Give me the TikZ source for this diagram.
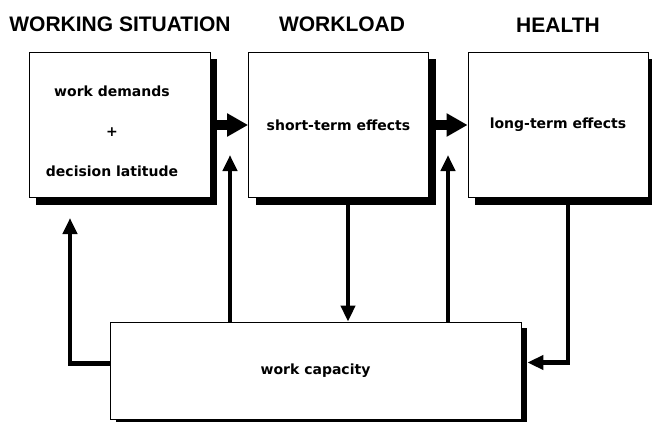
\documentclass[tikz,border=0pt]{standalone}
\usepackage{fontspec}
\setmainfont{Liberation Sans}
\newfontfamily\boxfont{DejaVu Sans}
\usetikzlibrary{arrows.meta,shadows}

\begin{document}
\begin{tikzpicture}[
  x=1pt, y=-1pt,
  every node/.style={font=\boxfont\bfseries\fontsize{14}{17}\selectfont},
  heading/.style={font=\bfseries\fontsize{21}{25}\selectfont, inner sep=0pt},
  box/.style={draw, line width=0.8pt, fill=white, inner sep=0pt},
  stagebox/.style={box, minimum width=180pt, minimum height=145pt,
    drop shadow={shadow xshift=7pt, shadow yshift=-7pt, fill=black, opacity=1}},
  capbox/.style={box, minimum width=411pt, minimum height=97pt,
    drop shadow={shadow xshift=6pt, shadow yshift=-6pt, fill=black, opacity=1}},
  bigflow/.style={-{Triangle[length=21pt, width=22pt]}, line width=10pt},
  feedback/.style={-{Triangle[length=16pt, width=14pt]}, line width=4.5pt}
]
\useasboundingbox (0,0) rectangle (652,422);

\node[heading] (sitTitle) at (120,24) {WORKING SITUATION};
\node[heading] (loadTitle) at (342,24) {WORKLOAD};
\node[heading] (healthTitle) at (558,25) {HEALTH};

\node[stagebox, minimum width=181pt] (situation) at (119.5,125) {};
\node[align=center] (situationText) at (112,131) {work demands\\[23pt]+\\[23pt]decision latitude};
\node[stagebox] (workload) at (338.5,125) {short-term effects};
\node[stagebox] (health) at (558,125) {long-term effects};
\node[capbox] (capacity) at (315.5,370.5) {work capacity};

\coordinate (tipA) at (230,155);
\coordinate (tipB) at (448,155);
\coordinate (downCol) at (348,0);
\coordinate (healthCol) at (568,0);
\coordinate (leftTip) at (70,218);

\draw[bigflow] ([xshift=7pt]situation.east) -- (workload.west);
\draw[bigflow] ([xshift=7pt]workload.east) -- (health.west);

\draw[feedback] (capacity.north -| tipA) -- (tipA);
\draw[feedback] (capacity.north -| tipB) -- (tipB);
\draw[feedback] (workload.south -| downCol) -- (capacity.north -| downCol);
\draw[feedback] (health.south -| healthCol) |- ([xshift=6pt, yshift=8pt]capacity.east);
\draw[feedback] ([yshift=7pt]capacity.west) -| (leftTip);

\end{tikzpicture}
\end{document}
